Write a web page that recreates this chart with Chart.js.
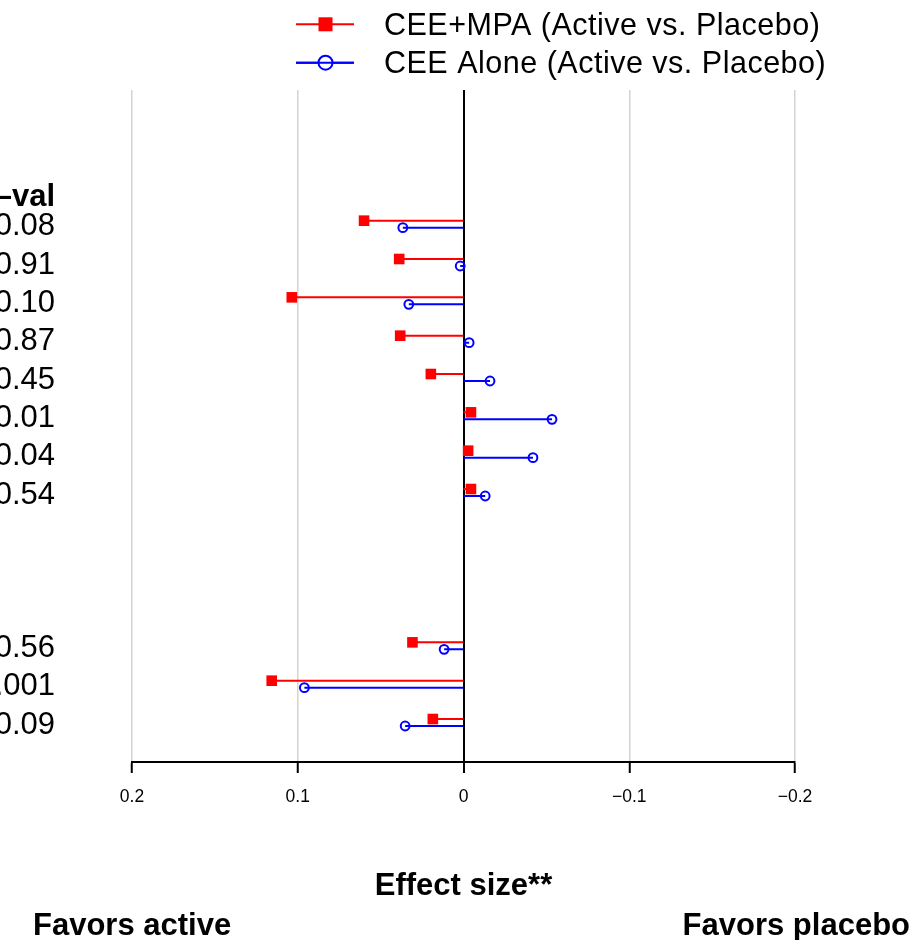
<!DOCTYPE html>
<html>
<head>
<meta charset="utf-8">
<script src="https://cdn.jsdelivr.net/npm/chart.js@4.4.1/dist/chart.umd.min.js"></script>
<style>
  html, body { margin: 0; padding: 0; background: #fff; }
  #forest { display: block; }
</style>
</head>
<body>
<canvas id="forest" width="917" height="940"></canvas>
<script>
// one entry per row, blank rows keep the gap between the two groups
const pValues   = ['0.08', '0.91', '0.10', '0.87', '0.45', '0.01', '0.04', '0.54', '', '', '', '0.56', '<.001', '0.09'];
const ceeMpa    = [0.060, 0.0388, 0.1036, 0.0382, 0.0197, -0.0045, -0.0028, -0.0045, null, null, null, 0.0308, 0.1157, 0.0185];
const ceeAlone  = [0.0366, 0.002, 0.033, -0.0034, -0.016, -0.0534, -0.0419, -0.0131, null, null, null, 0.0117, 0.096, 0.0352];
const tickValues = [-0.2, -0.1, 0, 0.1, 0.2];
const tickLabels = ['\u22120.2', '\u22120.1', '0', '0.1', '0.2'];
const seriesNames = ['CEE+MPA (Active vs. Placebo)', 'CEE Alone (Active vs. Placebo)'];

const RED = '#ff0000';
const BLUE = '#0000ff';
const FONT = "'Liberation Sans', Arial, Helvetica, sans-serif";
const rowShift = 0.0913; // the two series sit just above / below the row centre

Chart.defaults.font.family = FONT;
Chart.defaults.color = '#000';

function markers(values, shift) {
    const pts = [];
    values.forEach((v, i) => {
        if (v !== null) pts.push({x: v, y: i + shift});
    });
    return pts;
}

// horizontal stems from 0 out to each estimate, broken between rows
function stems(values, shift) {
    const pts = [];
    values.forEach((v, i) => {
        if (v === null) return;
        pts.push({x: 0, y: i + shift}, {x: v, y: i + shift}, {x: null, y: null});
    });
    return pts;
}

const textPlugin = {
    id: 'forestText',
    afterDraw(chart) {
        const c = chart.ctx;
        const y = chart.scales.y;
        c.save();
        c.fillStyle = '#000';

        // p-value column
        c.textAlign = 'right';
        c.textBaseline = 'alphabetic';
        c.font = 'bold 31px ' + FONT;
        c.fillText('p\u2013val', 55, y.getPixelForValue(-0.76) + 11);
        c.font = '31px ' + FONT;
        pValues.forEach((p, i) => {
            if (p) c.fillText(p, 55, y.getPixelForValue(i) + 11);
        });

        // legend
        const legendRows = [
            {color: RED, y: 24.3, square: true},
            {color: BLUE, y: 62.7, square: false}
        ];
        legendRows.forEach((r, k) => {
            c.strokeStyle = r.color;
            c.lineWidth = 2;
            c.beginPath();
            c.moveTo(296, r.y);
            c.lineTo(354, r.y);
            c.stroke();
            if (r.square) {
                c.fillStyle = r.color;
                c.fillRect(325.5 - 7, r.y - 7, 14, 14);
            } else {
                c.fillStyle = '#fff';
                c.beginPath();
                c.arc(325.5, r.y, 7, 0, Math.PI * 2);
                c.fill();
                c.stroke();
                c.beginPath();
                c.moveTo(296, r.y);
                c.lineTo(354, r.y);
                c.stroke();
            }
            c.fillStyle = '#000';
            c.textAlign = 'left';
            c.font = '30.5px ' + FONT;
            c.letterSpacing = '0.5px';
            c.fillText(seriesNames[k], 384, r.y + 10.7);
            c.letterSpacing = '0px';
        });

        // axis title and direction labels
        const area = chart.chartArea;
        c.font = 'bold 31px ' + FONT;
        c.textAlign = 'center';
        c.fillText('Effect size**', (area.left + area.right) / 2, 895);
        c.textAlign = 'left';
        c.fillText('Favors active', 33, 935);
        c.textAlign = 'right';
        c.fillText('Favors placebo', 910, 935);
        c.restore();
    }
};

const config = {
    type: 'scatter',
    data: {
        datasets: [
            {
                label: seriesNames[0],
                data: markers(ceeMpa, -rowShift),
                pointStyle: 'rect',
                pointRadius: 7.5,
                backgroundColor: RED,
                borderColor: RED,
                borderWidth: 0
            },
            {
                label: seriesNames[1],
                data: markers(ceeAlone, rowShift),
                pointStyle: 'circle',
                pointRadius: 4.4,
                backgroundColor: 'rgba(0,0,0,0)',
                borderColor: BLUE,
                borderWidth: 2
            },
            {
                label: 'stems mpa',
                data: stems(ceeMpa, -rowShift),
                showLine: true,
                pointRadius: 0,
                borderColor: RED,
                borderWidth: 2
            },
            {
                label: 'stems alone',
                data: stems(ceeAlone, rowShift),
                showLine: true,
                pointRadius: 0,
                borderColor: BLUE,
                borderWidth: 2
            }
        ]
    },
    options: {
        responsive: false,
        animation: false,
        spanGaps: false,
        layout: {
            padding: {left: 132, right: 122, top: 90, bottom: 0}
        },
        plugins: {
            legend: {display: false},
            tooltip: {enabled: false}
        },
        scales: {
            x: {
                type: 'linear',
                reverse: true,
                min: -0.2,
                max: 0.2,
                afterBuildTicks: (scale) => {
                    scale.ticks = tickValues.map(v => ({value: v}));
                },
                afterFit: (scale) => {
                    scale.height = 178;
                },
                grid: {
                    color: (ctx) => (ctx.tick && ctx.tick.value === 0) ? '#000' : '#d3d3d3',
                    lineWidth: (ctx) => (ctx.tick && ctx.tick.value === 0) ? 2 : 1.5,
                    tickColor: '#000',
                    tickWidth: 2,
                    tickLength: 11
                },
                border: {display: true, color: '#000', width: 2},
                ticks: {
                    padding: 14,
                    font: {size: 17.5},
                    color: '#000',
                    maxRotation: 0,
                    callback: (value, index) => tickLabels[index]
                }
            },
            y: {
                type: 'linear',
                display: false,
                reverse: true,
                min: -3.5,
                max: 14.03
            }
        }
    },
    plugins: [textPlugin]
};

const chart = new Chart(document.getElementById('forest'), config);
</script>
</body>
</html>
